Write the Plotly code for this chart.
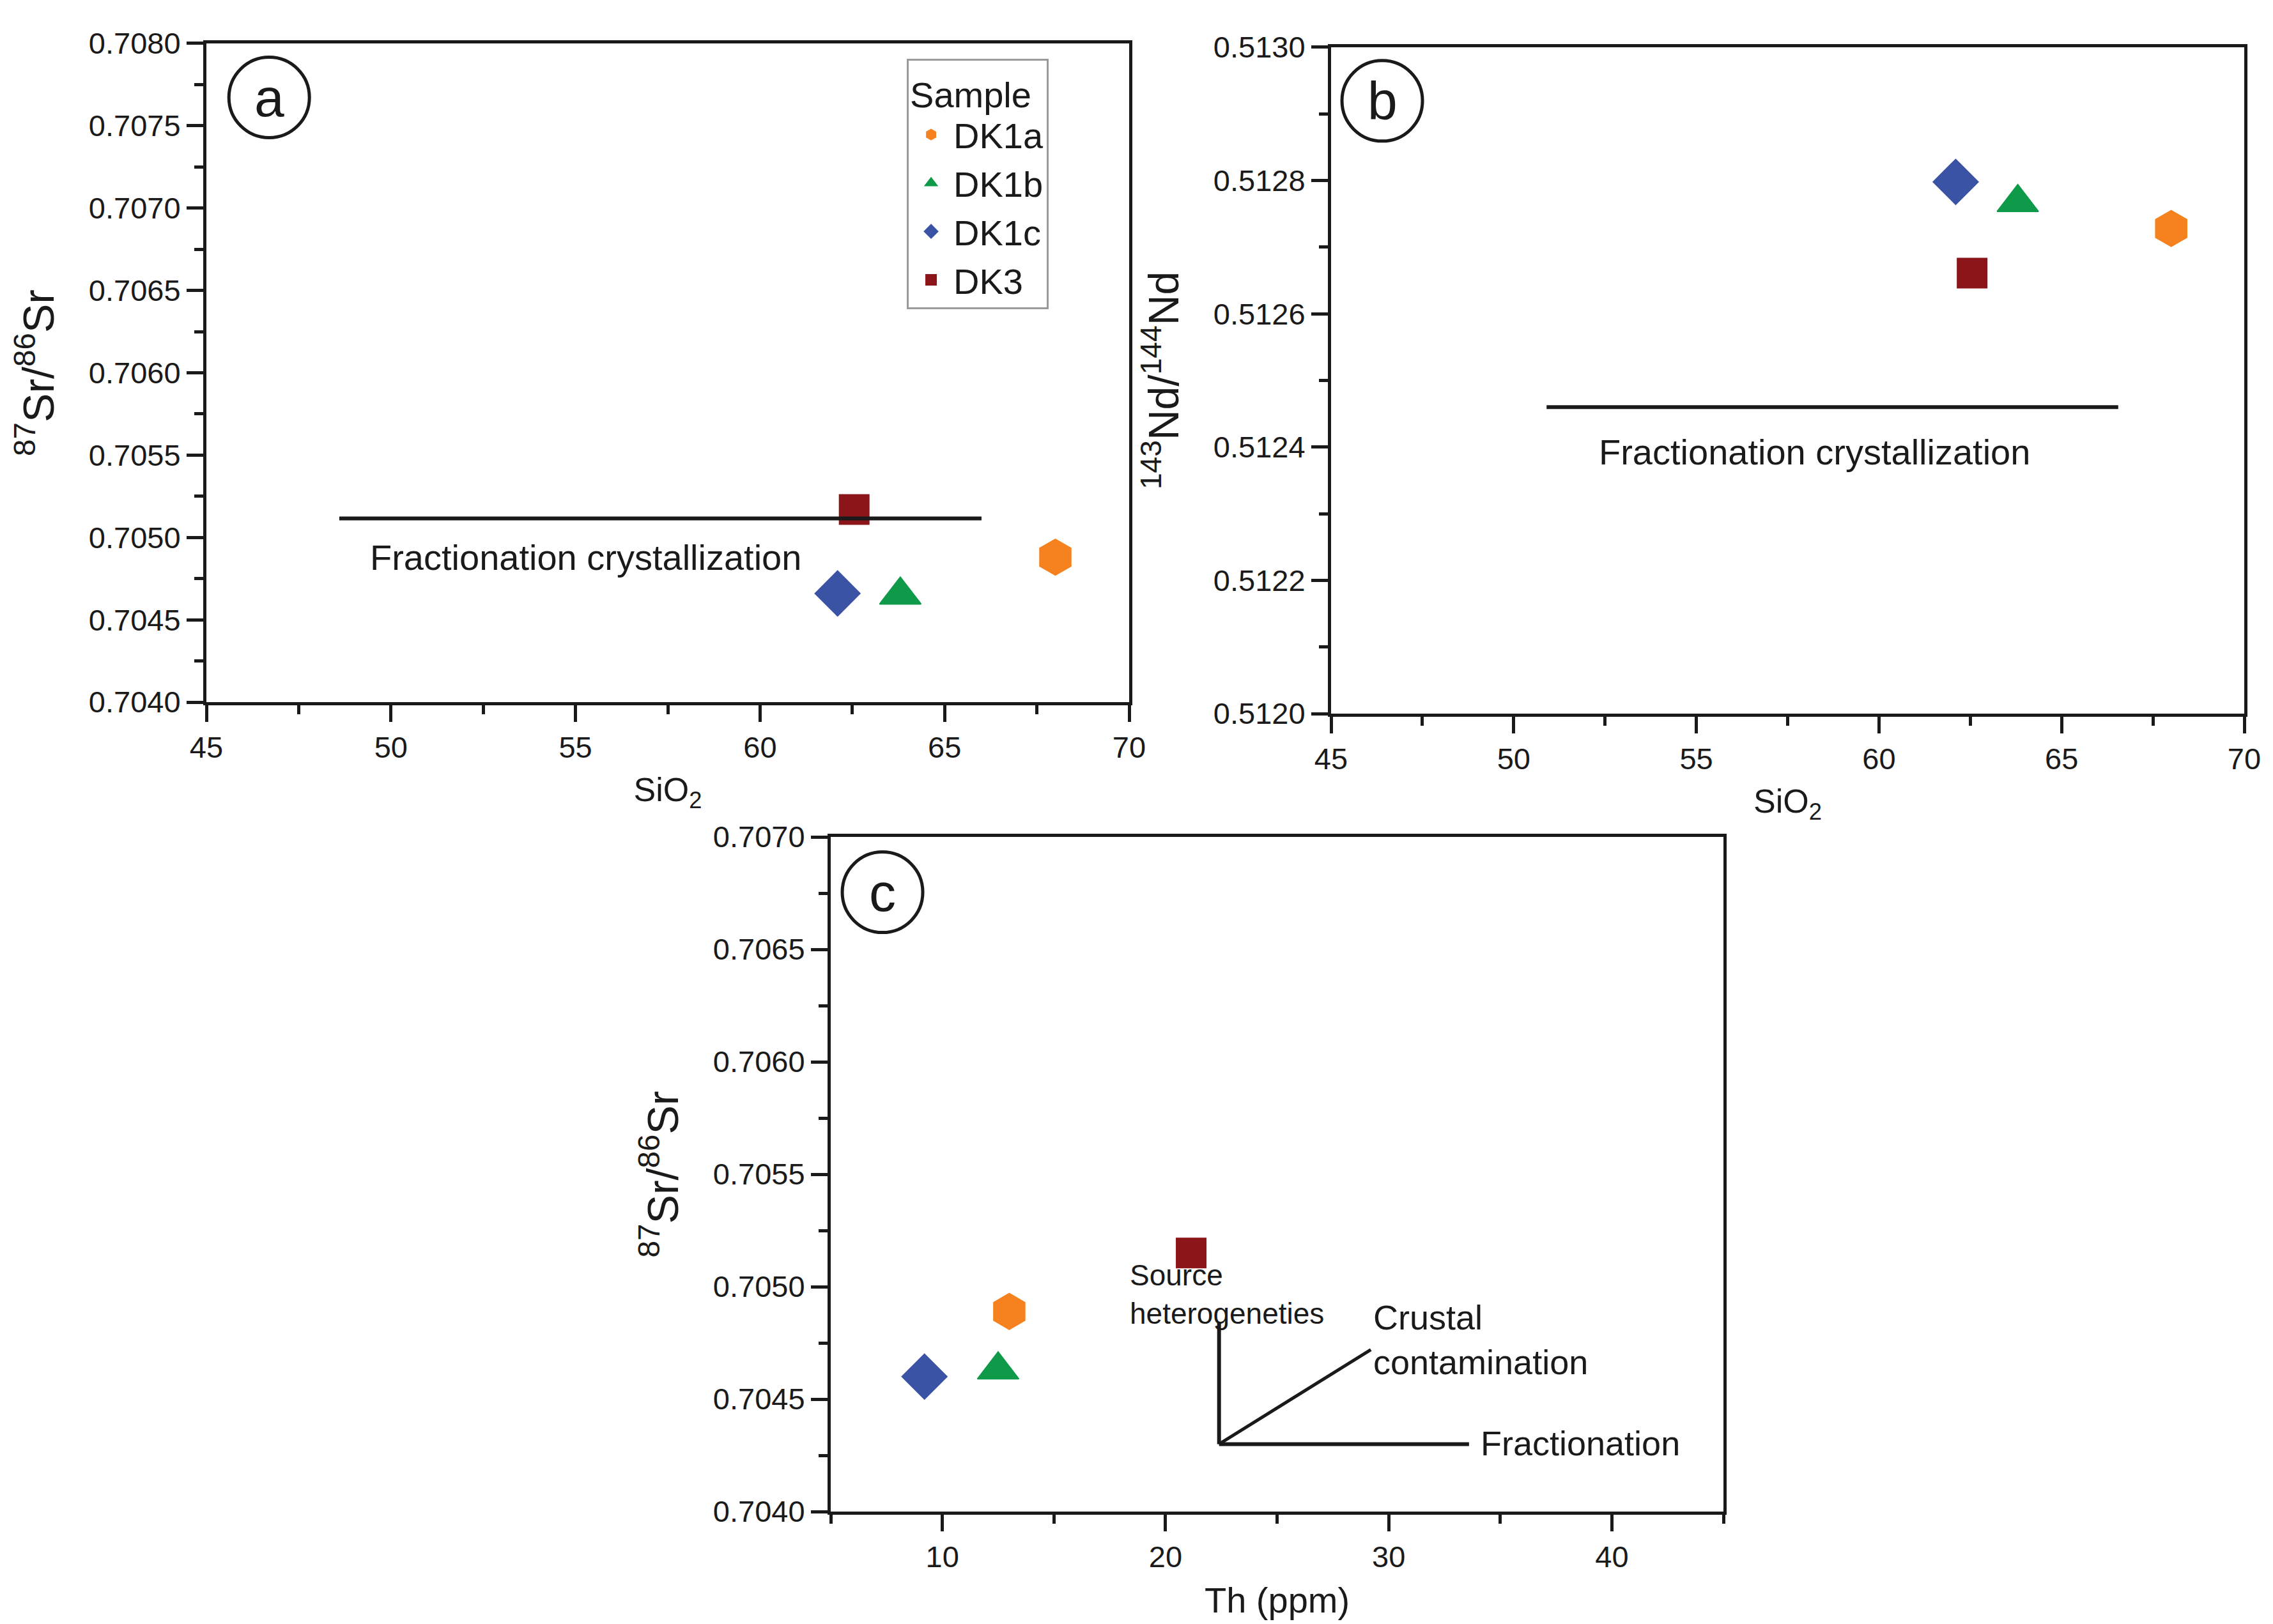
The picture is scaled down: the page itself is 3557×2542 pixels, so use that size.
import plotly.graph_objects as go

# ---------------- data ----------------
samples = ["DK1a", "DK1b", "DK1c", "DK3"]
colors = ["#F5821F", "#0E9A48", "#3A53A4", "#8B1518"]
symbols = ["hexagon", "triangle-up", "diamond", "square"]
marker_sizes = [56, 56, 54, 46]

sio2 = [68.0, 63.8, 62.1, 62.55]
sr87_86 = [0.70488, 0.70465, 0.70466, 0.70517]
nd143_144 = [0.512728, 0.512767, 0.512798, 0.512661]
th_ppm = [13.0, 12.5, 9.2, 21.15]
sr87_86_c = [0.70489, 0.70463, 0.70460, 0.70515]

# trend guide lines
line_a_x = [48.6, 66.0]
line_a_y = [0.705115, 0.705115]
line_b_x = [50.9, 66.55]
line_b_y = [0.51246, 0.51246]
vec_src_x = [22.4, 22.4]
vec_src_y = [0.70484, 0.70430]
vec_frac_x = [22.4, 33.6]
vec_frac_y = [0.70430, 0.70430]
vec_crust_x = [22.4, 29.2]
vec_crust_y = [0.70430, 0.70472]

FONT = "Liberation Sans, Arial, sans-serif"
NARROW = "Liberation Sans Narrow, Arial Narrow, Liberation Sans, Arial, sans-serif"
INK = "#1a1a1a"

fig = go.Figure()

for i, s in enumerate(samples):
    mk = dict(color=colors[i], symbol=symbols[i], size=marker_sizes[i],
              line=dict(color=colors[i], width=2))
    fig.add_trace(go.Scatter(x=[sio2[i]], y=[sr87_86[i]], mode="markers", name=s,
                             marker=mk, xaxis="x", yaxis="y", showlegend=True))
    fig.add_trace(go.Scatter(x=[sio2[i]], y=[nd143_144[i]], mode="markers", name=s,
                             marker=mk, xaxis="x2", yaxis="y2", showlegend=False))
    fig.add_trace(go.Scatter(x=[th_ppm[i]], y=[sr87_86_c[i]], mode="markers", name=s,
                             marker=mk, xaxis="x3", yaxis="y3", showlegend=False))

lw = dict(color=INK, width=6)
for xs, ys, xa, ya in [(line_a_x, line_a_y, "x", "y"), (line_b_x, line_b_y, "x2", "y2"),
                       (vec_src_x, vec_src_y, "x3", "y3"), (vec_frac_x, vec_frac_y, "x3", "y3")]:
    fig.add_trace(go.Scatter(x=xs, y=ys, mode="lines", line=lw, xaxis=xa, yaxis=ya,
                             showlegend=False, hoverinfo="skip"))
fig.add_trace(go.Scatter(x=vec_crust_x, y=vec_crust_y, mode="lines", line=dict(color=INK, width=5),
                         xaxis="x3", yaxis="y3", showlegend=False, hoverinfo="skip"))


def axis(domain, anchor, rng, dtick, minor, fmt=None, title=None, tfont=58, standoff=30, tick0=None):
    d = dict(domain=domain, anchor=anchor, range=rng, dtick=dtick, automargin=False,
             showline=True, linewidth=5, linecolor=INK, mirror=True,
             ticks="outside", ticklen=26, tickwidth=5, tickcolor=INK,
             minor=dict(dtick=minor, ticks="outside", ticklen=14, tickwidth=5, tickcolor=INK),
             showgrid=False, zeroline=False,
             tickfont=dict(family=FONT, size=47, color=INK),
             title=dict(text=title, font=dict(family=FONT, size=tfont, color=INK), standoff=standoff))
    if fmt:
        d["tickformat"] = fmt
    if tick0 is not None:
        d["tick0"] = tick0
    return d


fig.update_layout(
    width=3557, height=2542, autosize=False,
    margin=dict(l=0, r=0, t=0, b=0),
    paper_bgcolor="white", plot_bgcolor="white",
    font=dict(family=FONT, color=INK),
    xaxis=axis([0.08856, 0.49452], "y", [45, 70], 5, 2.5, title="SiO<sub>2</sub>", tfont=52, standoff=24),
    yaxis=axis([0.57081, 0.97640], "x", [0.7040, 0.7080], 0.0005, 0.00025, ".4f",
               title="<sup>87</sup>Sr/<sup>86</sup>Sr", tfont=68, standoff=34, tick0=0.704),
    xaxis2=axis([0.58336, 0.98510], "y2", [45, 70], 5, 2.5, title="SiO<sub>2</sub>", tfont=52, standoff=24),
    yaxis2=axis([0.56373, 0.97404], "x2", [0.5120, 0.5130], 0.0002, 0.0001, ".4f",
                title="<sup>143</sup>Nd/<sup>144</sup>Nd", tfont=66, standoff=34, tick0=0.512),
    xaxis3=axis([0.36323, 0.75598], "y3", [5, 45], 10, 5, title="Th (ppm)", tfont=56, standoff=24, tick0=0),
    yaxis3=axis([0.07238, 0.48780], "x3", [0.7040, 0.7070], 0.0005, 0.00025, ".4f",
                title="<sup>87</sup>Sr/<sup>86</sup>Sr", tfont=68, standoff=34, tick0=0.704),
    legend=dict(x=0.3967, y=0.967, xanchor="left", yanchor="top",
                bordercolor="#9a9a9a", borderwidth=3, bgcolor="white",
                font=dict(family=FONT, size=56, color=INK),
                title=dict(text="Sample", font=dict(family=FONT, size=56, color=INK)),
                itemsizing="trace", itemwidth=60, tracegroupgap=0),
    showlegend=True,
)

# panel letters in circles
for xa, ya, cx, cy, letter in [("x", "y", 0.068, 0.918, "a"), ("x2", "y2", 0.056, 0.9196, "b"),
                               ("x3", "y3", 0.058, 0.918, "c")]:
    fig.add_shape(type="circle", xref=xa + " domain", yref=ya + " domain",
                  xsizemode="pixel", ysizemode="pixel", xanchor=cx, yanchor=cy,
                  x0=-63, x1=63, y0=-63, y1=63, line=dict(color=INK, width=5))
    fig.add_annotation(xref=xa + " domain", yref=ya + " domain", x=cx, y=cy, text=letter,
                       showarrow=False, font=dict(family=FONT, size=84, color=INK),
                       xanchor="center", yanchor="middle")

# text labels
fig.add_annotation(xref="x", yref="y", x=55.28, y=0.70488, text="Fractionation crystallization",
                   showarrow=False, font=dict(family=NARROW, size=56, color=INK))
fig.add_annotation(xref="x2", yref="y2", x=58.23, y=0.512393, text="Fractionation crystallization",
                   showarrow=False, font=dict(family=NARROW, size=56, color=INK))
fig.add_annotation(xref="x3", yref="y3", x=18.35, y=0.704966, text="Source<br>heterogeneties",
                   showarrow=False, xanchor="left", align="left",
                   font=dict(family=NARROW, size=46, color=INK))
fig.add_annotation(xref="x3", yref="y3", x=29.24, y=0.704763, text="Crustal<br>contamination",
                   showarrow=False, xanchor="left", align="left",
                   font=dict(family=NARROW, size=54, color=INK))
fig.add_annotation(xref="x3", yref="y3", x=34.07, y=0.704303, text="Fractionation",
                   showarrow=False, xanchor="left", align="left",
                   font=dict(family=NARROW, size=54, color=INK))

fig.write_html("out.html")
